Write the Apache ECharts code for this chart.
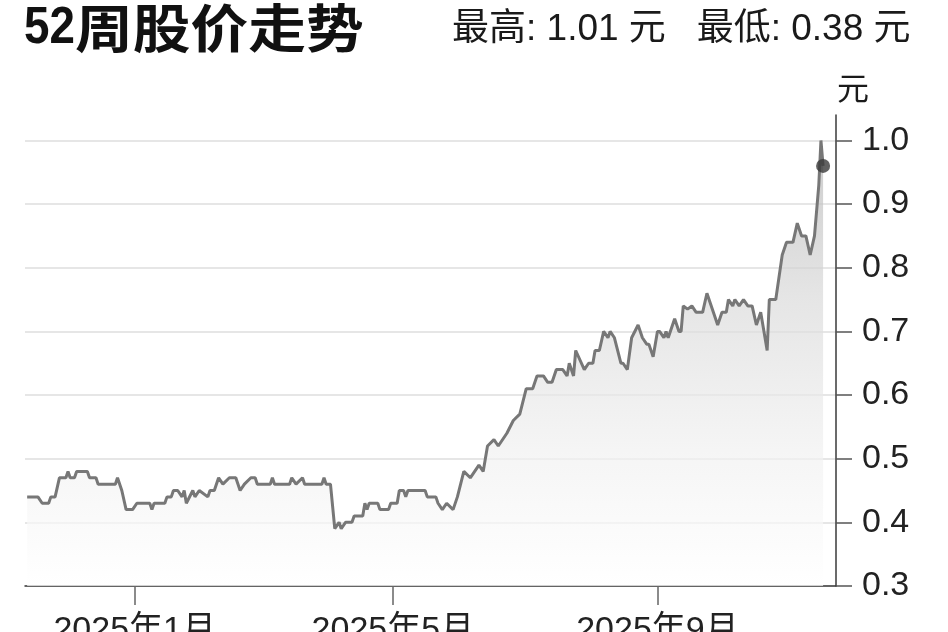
<!DOCTYPE html>
<html><head><meta charset="utf-8">
<script src="https://cdn.jsdelivr.net/npm/echarts@6/dist/echarts.min.js"></script>
<style>html,body{margin:0;padding:0;background:#fff}#c{width:948px;height:632px}</style>
</head><body><div id="c"></div>
<script>
const titleText = '周股价走势';
const titleNum = '52';
const statText = '最高: 1.01 元   最低: 0.38 元';
const unitText = '元';
const yTicks = [0.3, 0.4, 0.5, 0.6, 0.7, 0.8, 0.9, 1.0];
const xTickDates = ['2025-01-01', '2025-05-01', '2025-09-01'];
const dates = [
'2024-11-12','2024-11-17','2024-11-19','2024-11-22','2024-11-23','2024-11-25','2024-11-27','2024-11-30',
'2024-12-01','2024-12-02','2024-12-04','2024-12-05','2024-12-10','2024-12-11','2024-12-14','2024-12-15',
'2024-12-23','2024-12-24','2024-12-26','2024-12-28','2024-12-31',
'2025-01-02','2025-01-08','2025-01-09','2025-01-10','2025-01-15','2025-01-16','2025-01-18','2025-01-19',
'2025-01-21','2025-01-23','2025-01-24','2025-01-25','2025-01-28','2025-01-29','2025-01-31',
'2025-02-04','2025-02-05','2025-02-07','2025-02-09','2025-02-11','2025-02-14','2025-02-17','2025-02-19',
'2025-02-21','2025-02-24','2025-02-26','2025-02-27',
'2025-03-05','2025-03-06','2025-03-07','2025-03-14','2025-03-15','2025-03-17','2025-03-20','2025-03-21',
'2025-03-29','2025-03-30','2025-03-31',
'2025-04-02','2025-04-04','2025-04-06','2025-04-07','2025-04-09','2025-04-12','2025-04-13','2025-04-17',
'2025-04-18','2025-04-19','2025-04-20','2025-04-24','2025-04-25','2025-04-29','2025-04-30',
'2025-05-03','2025-05-04','2025-05-06','2025-05-07','2025-05-08','2025-05-16','2025-05-17','2025-05-21',
'2025-05-22','2025-05-24','2025-05-26','2025-05-29','2025-05-31',
'2025-06-03','2025-06-06','2025-06-10','2025-06-12','2025-06-14','2025-06-17','2025-06-19','2025-06-23',
'2025-06-26','2025-06-29',
'2025-07-02','2025-07-05','2025-07-07','2025-07-10','2025-07-12','2025-07-14','2025-07-16','2025-07-19',
'2025-07-21','2025-07-22','2025-07-24','2025-07-25','2025-07-29','2025-07-31',
'2025-08-02','2025-08-03','2025-08-05','2025-08-07','2025-08-09','2025-08-10','2025-08-12','2025-08-15',
'2025-08-16','2025-08-18','2025-08-20','2025-08-23','2025-08-25','2025-08-27','2025-08-28','2025-08-30',
'2025-09-01','2025-09-02','2025-09-04','2025-09-05','2025-09-06','2025-09-09','2025-09-11','2025-09-12',
'2025-09-13','2025-09-15','2025-09-17','2025-09-19','2025-09-22','2025-09-24','2025-09-27','2025-09-29',
'2025-10-01','2025-10-03','2025-10-04','2025-10-06','2025-10-07','2025-10-09','2025-10-11','2025-10-13',
'2025-10-15','2025-10-17','2025-10-19','2025-10-20','2025-10-22','2025-10-23','2025-10-26','2025-10-29',
'2025-10-31',
'2025-11-03','2025-11-05','2025-11-07','2025-11-09','2025-11-11','2025-11-13','2025-11-15','2025-11-16',
'2025-11-17'
];
const prices = [
0.44,0.44,0.43,0.43,0.44,0.44,0.47,0.47,
0.48,0.47,0.47,0.48,0.48,0.47,0.47,0.46,
0.46,0.47,0.45,0.42,0.42,
0.43,0.43,0.42,0.43,0.43,0.44,0.44,0.45,
0.45,0.44,0.45,0.43,0.45,0.44,0.45,
0.44,0.45,0.45,0.47,0.46,0.47,0.47,0.45,
0.46,0.47,0.47,0.46,
0.46,0.47,0.46,0.46,0.47,0.46,0.47,0.46,
0.46,0.47,0.46,
0.46,0.39,0.40,0.39,0.40,0.40,0.41,0.41,
0.43,0.42,0.43,0.43,0.42,0.42,0.43,
0.43,0.45,0.45,0.44,0.45,0.45,0.44,0.44,
0.43,0.42,0.43,0.42,0.44,
0.48,0.47,0.49,0.48,0.52,0.53,0.52,0.54,
0.56,0.57,
0.61,0.61,0.63,0.63,0.62,0.62,0.64,0.64,
0.63,0.65,0.63,0.67,0.64,0.65,
0.65,0.67,0.67,0.70,0.69,0.70,0.69,0.65,
0.65,0.64,0.69,0.71,0.69,0.68,0.68,0.66,
0.70,0.70,0.69,0.70,0.69,0.72,0.70,0.70,
0.74,0.735,0.74,0.73,0.73,0.76,0.73,0.71,
0.73,0.73,0.75,0.74,0.75,0.74,0.75,0.74,
0.74,0.71,0.73,0.71,0.67,0.75,0.75,0.82,
0.84,
0.84,0.87,0.85,0.85,0.82,0.85,0.93,1.00,
0.96
];

const toTs = s => { const p = s.split('-').map(Number); return new Date(p[0], p[1] - 1, p[2]).getTime(); };
const lineData = dates.map((d, i) => [toTs(d), prices[i]]);
const lastPoint = [lineData[lineData.length - 1]];

const latin = "'Liberation Sans', 'Noto Sans CJK SC', sans-serif";
const chart = echarts.init(document.getElementById('c'), null, { renderer: 'canvas' });
chart.setOption({
  animation: false,
  backgroundColor: '#fff',
  grid: { left: 25, right: 112, top: 115, bottom: 46, containLabel: false, outerBoundsMode: 'none' },
  xAxis: {
    type: 'value',
    min: toTs('2024-11-11'),
    max: toTs('2025-11-23'),
    axisLine: { show: true, onZero: false, lineStyle: { color: '#3a3a3a', width: 1.5 } },
    axisTick: { show: true, length: 19, lineStyle: { color: '#666', width: 1.5 }, customValues: xTickDates.map(toTs) },
    axisLabel: {
      customValues: xTickDates.map(toTs),
      margin: 28, fontSize: 34, color: '#222', fontFamily: latin,
      formatter: v => { const d = new Date(v); return d.getFullYear() + '年' + (d.getMonth() + 1) + '月'; }
    },
    splitLine: { show: false }
  },
  yAxis: {
    type: 'value',
    position: 'right',
    min: 0.3, max: 1.04,
    axisLine: { show: true, lineStyle: { color: '#3a3a3a', width: 1.5 } },
    axisTick: { show: true, inside: false, length: 16, lineStyle: { color: '#555', width: 1.5 }, customValues: yTicks },
    axisLabel: { customValues: yTicks, margin: 26, fontSize: 34, color: '#222', fontFamily: latin,
      formatter: v => v.toFixed(1) },
    splitLine: { show: true, lineStyle: { color: '#e6e6e6', width: 2 } }
  },
  series: [
    {
      type: 'line',
      data: lineData,
      symbol: 'none',
      smooth: false,
      lineStyle: { color: '#777', width: 3 },
      areaStyle: {
        origin: 'start',
        color: { type: 'linear', x: 0, y: 0, x2: 0, y2: 1, colorStops: [
          { offset: 0, color: '#b5b5b5' },
          { offset: 0.35, color: '#dadada' },
          { offset: 0.7, color: '#f1f1f1' },
          { offset: 1, color: '#ffffff' }
        ] }
      },
      z: 2
    },
    {
      type: 'scatter',
      data: lastPoint,
      symbol: 'circle',
      symbolSize: 14,
      itemStyle: { color: '#3a3a3a' },
      z: 3
    }
  ],
  graphic: [
    { type: 'text', x: 24, y: 28.5, scaleX: 0.88,
      style: { text: titleNum, fontSize: 52, fontWeight: 'bold', fontFamily: latin, fill: '#111', textAlign: 'left', textVerticalAlign: 'middle' } },
    { type: 'text', x: 75, y: 28.5, scaleX: 1.11,
      style: { text: titleText, fontSize: 52, fontWeight: 'bold', fontFamily: "'Noto Sans CJK SC', sans-serif", fill: '#111', textAlign: 'left', textVerticalAlign: 'middle' } },
    { type: 'text', x: 452, y: 30,
      style: { text: statText, fontSize: 37, fontFamily: latin, fill: '#1a1a1a', textAlign: 'left', textVerticalAlign: 'middle' } },
    { type: 'text', x: 837, y: 88,
      style: { text: unitText, fontSize: 32, fontFamily: "'Noto Sans CJK SC', sans-serif", fill: '#1a1a1a', textAlign: 'left', textVerticalAlign: 'middle' } }
  ]
});
</script>
</body></html>
